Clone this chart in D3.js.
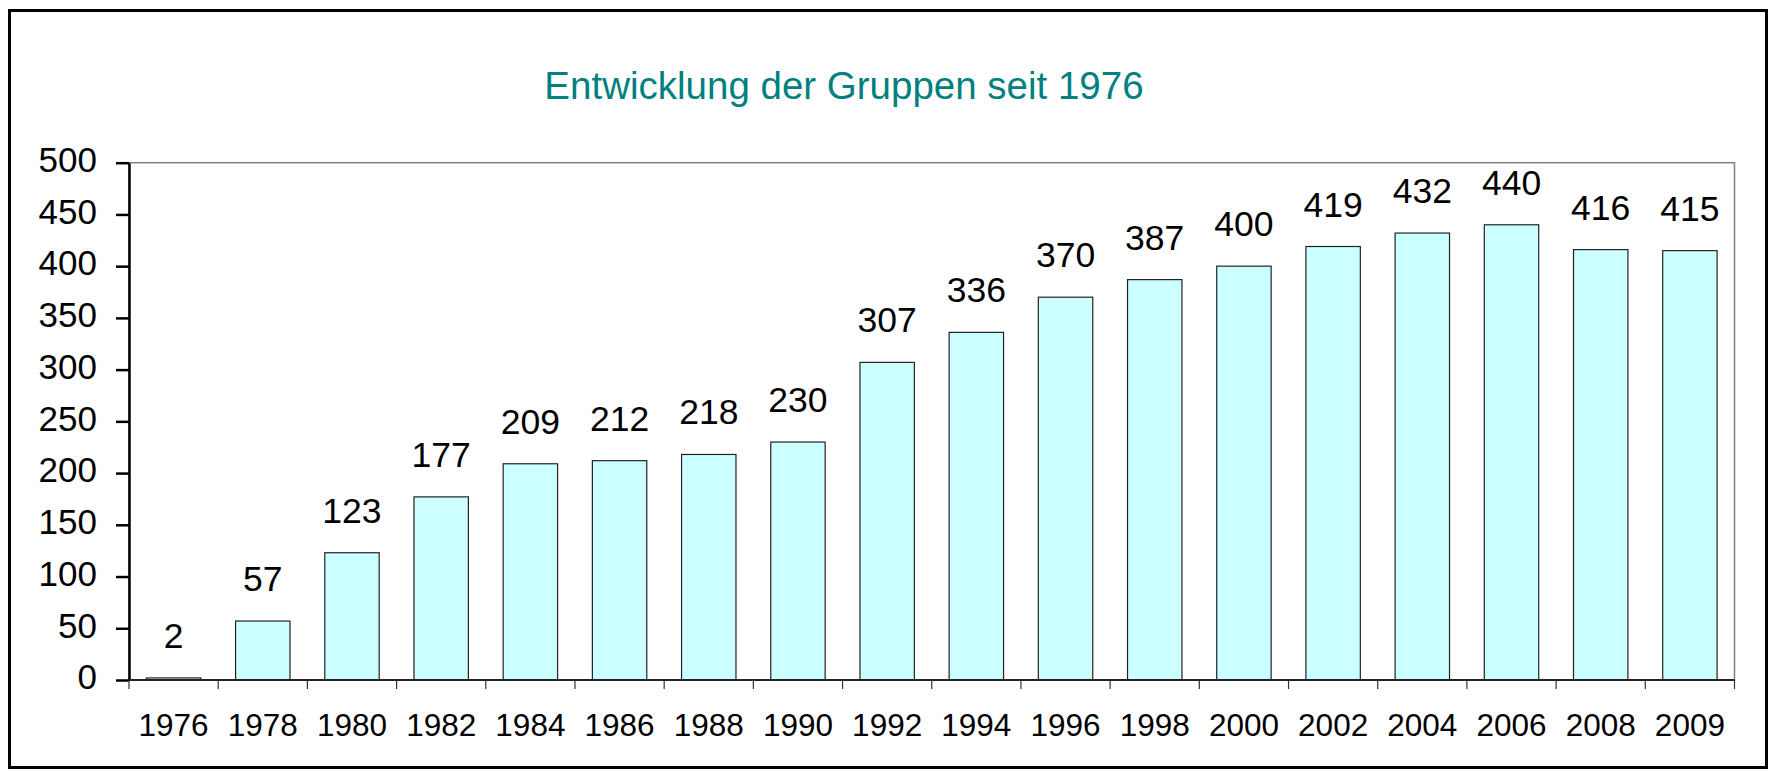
<!DOCTYPE html>
<html>
<head>
<meta charset="utf-8">
<script src="https://cdn.jsdelivr.net/npm/d3@7"></script>
<style>
  body { margin: 0; background: #fff; }
  text { font-family: Arial, "Liberation Sans", sans-serif; }
</style>
</head>
<body>
<svg></svg>
<script>
// Chart data
const years = ['1976', '1978', '1980', '1982', '1984', '1986', '1988', '1990', '1992',
               '1994', '1996', '1998', '2000', '2002', '2004', '2006', '2008', '2009'];
const groups = [2, 57, 123, 177, 209, 212, 218, 230, 307, 336, 370, 387, 400, 419, 432, 440, 416, 415];
const yTicks = [0, 50, 100, 150, 200, 250, 300, 350, 400, 450, 500];
const title = 'Entwicklung der Gruppen seit 1976';

const width = 1771, height = 771;
const svg = d3.select('svg')
    .attr('width', width)
    .attr('height', height);

// Plot area bounds
const plotLeft = 129, plotRight = 1734.5, plotTop = 162.7, plotBottom = 680;

const x = d3.scaleBand()
    .domain(years)
    .range([plotLeft, plotRight])
    .paddingInner(0.39)
    .paddingOuter(0.195);

const y = d3.scaleLinear()
    .domain([0, 500])
    .range([plotBottom, plotTop]);

// Outer frame
svg.append('rect')
    .attr('x', 9.5).attr('y', 10.5)
    .attr('width', 1757).attr('height', 757)
    .attr('fill', 'none')
    .attr('stroke', '#000')
    .attr('stroke-width', 3);

// Title
svg.append('text')
    .attr('x', 844)
    .attr('y', 98.5)
    .attr('text-anchor', 'middle')
    .attr('fill', '#008080')
    .style('font-size', '38.5px')
    .text(title);

// Plot area border
svg.append('rect')
    .attr('x', plotLeft).attr('y', plotTop)
    .attr('width', plotRight - plotLeft).attr('height', plotBottom - plotTop)
    .attr('fill', 'none')
    .attr('stroke', '#808080')
    .attr('stroke-width', 1.5);

// Bars
svg.append('g').selectAll('rect')
    .data(groups)
    .join('rect')
    .attr('x', (d, i) => x(years[i]))
    .attr('y', d => y(d))
    .attr('width', x.bandwidth())
    .attr('height', d => plotBottom - y(d))
    .attr('fill', '#ccffff')
    .attr('stroke', '#222')
    .attr('stroke-width', 1.2);

// Value labels
svg.append('g').selectAll('text')
    .data(groups)
    .join('text')
    .attr('x', (d, i) => x(years[i]) + x.bandwidth() / 2)
    .attr('y', d => y(d) - 30)
    .attr('text-anchor', 'middle')
    .style('font-size', '35.5px')
    .text(d => d);

// Y axis
const yAxis = svg.append('g')
    .attr('transform', `translate(${plotLeft},0)`)
    .call(d3.axisLeft(y).tickValues(yTicks).tickSize(13).tickSizeOuter(0).tickPadding(19));
yAxis.select('.domain').attr('stroke', '#000').attr('stroke-width', 2.5);
yAxis.selectAll('.tick line').attr('stroke', '#000').attr('stroke-width', 2.5);
yAxis.selectAll('.tick text')
    .attr('dy', '0.25em')
    .attr('fill', '#000')
    .style('font-size', '35px')
    .style('font-family', 'Arial, "Liberation Sans", sans-serif');

// X axis: labels from the band scale, ticks at category boundaries
const xAxis = svg.append('g')
    .attr('transform', `translate(0,${plotBottom})`)
    .call(d3.axisBottom(x).tickSize(0).tickPadding(34));
xAxis.select('.domain').remove();
xAxis.selectAll('.tick text')
    .attr('fill', '#000')
    .style('font-size', '31.5px')
    .style('font-family', 'Arial, "Liberation Sans", sans-serif');

const bounds = years.map(d => x(d) - (x.step() - x.bandwidth()) / 2).concat([plotRight]);
svg.append('g').selectAll('line')
    .data(bounds)
    .join('line')
    .attr('x1', d => d).attr('x2', d => d)
    .attr('y1', plotBottom).attr('y2', plotBottom + 9)
    .attr('stroke', '#333')
    .attr('stroke-width', 1.2);

svg.append('line')
    .attr('x1', plotLeft).attr('x2', plotRight)
    .attr('y1', plotBottom).attr('y2', plotBottom)
    .attr('stroke', '#222')
    .attr('stroke-width', 1.8);
</script>
</body>
</html>
